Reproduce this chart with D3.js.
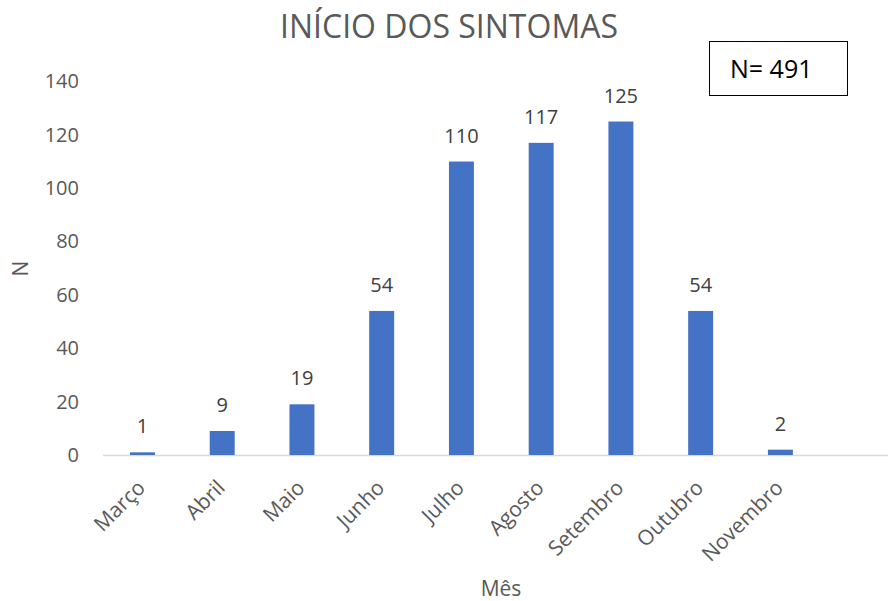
<!DOCTYPE html>
<html>
<head>
<meta charset="utf-8">
<script src="https://cdn.jsdelivr.net/npm/d3@7"></script>
<style>
  html, body { margin: 0; padding: 0; background: #fff; }
  svg { display: block; font-family: "Open Sans", "Noto Sans", sans-serif; }
</style>
</head>
<body>
<svg id="chart" width="888" height="601"></svg>
<script>
const categories = ["Março", "Abril", "Maio", "Junho", "Julho", "Agosto", "Setembro", "Outubro", "Novembro", ""];
const values = [1, 9, 19, 54, 110, 117, 125, 54, 2, null];
const yTicks = [0, 20, 40, 60, 80, 100, 120, 140];
const title = "INÍCIO DOS SINTOMAS";
const xTitle = "Mês";
const yTitle = "N";
const noteText = "N= 491";

const plot = { left: 102.6, right: 900, top: 81.5, bottom: 455 };
const svg = d3.select("#chart");
const textColor = "#595959";

const x = d3.scaleBand()
  .domain(categories)
  .range([plot.left, plot.right])
  .paddingInner(0.687)
  .paddingOuter(0.3435);

const y = d3.scaleLinear()
  .domain([0, 140])
  .range([plot.bottom, plot.top]);

// Title
svg.append("text")
  .attr("x", 449).attr("y", 37.5)
  .attr("text-anchor", "middle")
  .attr("fill", textColor)
  .style("font-size", "32px")
  .text(title);

// Y axis (labels only)
const yAxis = d3.axisLeft(y).tickValues(yTicks).tickSize(0).tickPadding(0);
const gy = svg.append("g")
  .attr("transform", `translate(${79},0)`)
  .call(yAxis);
gy.select(".domain").remove();
gy.selectAll("text")
  .attr("fill", textColor)
  .style("font-size", "20px")
  .style("font-family", "'Open Sans', sans-serif");

// X axis
const xAxis = d3.axisBottom(x).tickSize(0).tickPadding(0);
const gx = svg.append("g")
  .attr("transform", `translate(0,${plot.bottom})`)
  .call(xAxis);
gx.select(".domain")
  .attr("stroke", "#d9d9d9")
  .attr("stroke-width", 1.5);
gx.selectAll(".tick text")
  .attr("fill", textColor)
  .style("font-size", "21px")
  .style("font-family", "'Open Sans', sans-serif")
  .attr("text-anchor", "end")
  .attr("dy", null)
  .attr("y", 0)
  .attr("transform", "translate(4,34) rotate(-45)");

// Bars
const data = categories.map((c, i) => ({ c, v: values[i] })).filter(d => d.v != null);
svg.append("g").selectAll("rect")
  .data(data)
  .join("rect")
  .attr("x", d => x(d.c))
  .attr("width", x.bandwidth())
  .attr("y", d => y(d.v))
  .attr("height", d => y(0) - y(d.v))
  .attr("fill", "#4472c4");

// Data labels
svg.append("g").selectAll("text")
  .data(data)
  .join("text")
  .attr("x", d => x(d.c) + x.bandwidth() / 2)
  .attr("y", d => y(d.v) - 19)
  .attr("text-anchor", "middle")
  .attr("fill", "#404040")
  .style("font-size", "20px")
  .text(d => d.v);

// Axis titles
svg.append("text")
  .attr("transform", `translate(28,268.5) rotate(-90)`)
  .attr("text-anchor", "middle")
  .attr("fill", textColor)
  .style("font-size", "21px")
  .text(yTitle);

svg.append("text")
  .attr("x", 501).attr("y", 596)
  .attr("text-anchor", "middle")
  .attr("fill", textColor)
  .style("font-size", "21px")
  .text(xTitle);

// Note box
svg.append("rect")
  .attr("x", 709.5).attr("y", 41.5)
  .attr("width", 138).attr("height", 54)
  .attr("fill", "#fff")
  .attr("stroke", "#000")
  .attr("stroke-width", 1);
svg.append("text")
  .attr("x", 730).attr("y", 77.5)
  .attr("fill", "#000")
  .style("font-size", "25px")
  .text(noteText);
</script>
</body>
</html>
